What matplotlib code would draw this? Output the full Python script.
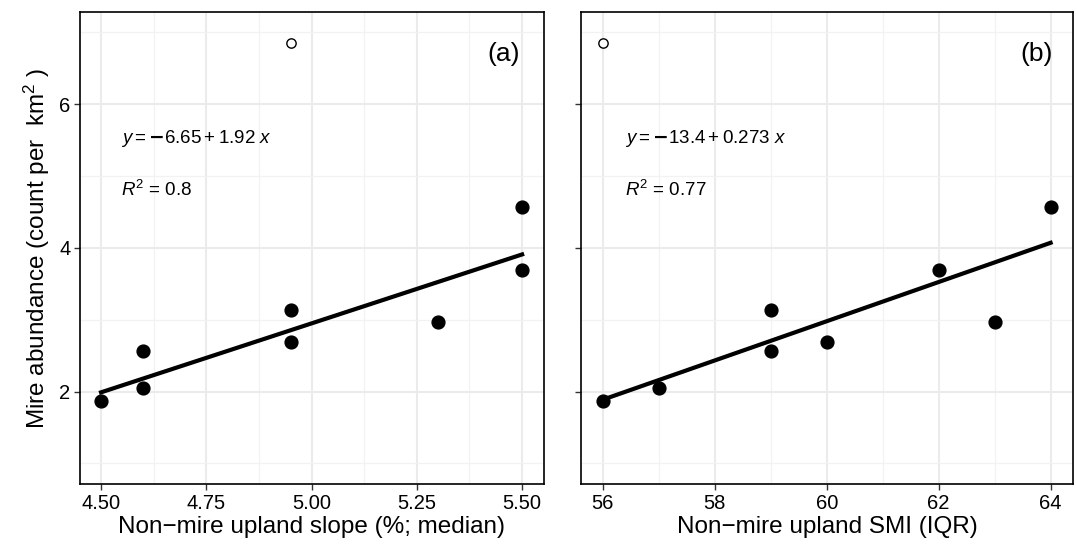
import numpy as np
import matplotlib
matplotlib.use("Agg")
import matplotlib.pyplot as plt

plt.rcParams['font.family'] = ['Liberation Sans', 'DejaVu Sans']
plt.rcParams['mathtext.fontset'] = 'custom'
plt.rcParams['mathtext.rm'] = 'Liberation Sans'
plt.rcParams['mathtext.it'] = 'Liberation Sans:italic'

# data
slope = [5.5, 5.5, 4.95, 5.3, 4.95, 4.6, 4.6, 4.5]
smi = [64, 62, 59, 63, 60, 59, 57, 56]
abundance = [4.57, 3.70, 3.14, 2.97, 2.69, 2.56, 2.05, 1.87]

# excluded point (open circle)
out_slope = [4.95]
out_smi = [56]
out_abundance = [6.85]

# fitted lines (intercept, slope) and R2 as printed
fit_a = [-6.65, 1.92]
fit_b = [-13.4, 0.273]
r2_a = "0.8"
r2_b = "0.77"

fig = plt.figure(figsize=(10.77, 5.45), dpi=100)
ax1 = fig.add_axes([80/1077, 61/545, 464/1077, 472/545])
ax2 = fig.add_axes([581/1077, 61/545, 492/1077, 472/545])

panels = [
    (ax1, slope, out_slope, fit_a, r2_a, "(a)", 0.948, (4.45, 5.552),
     [4.5, 4.75, 5.0, 5.25, 5.5], ["4.50", "4.75", "5.00", "5.25", "5.50"],
     [4.625, 4.875, 5.125, 5.375], "Non\u2212mire upland slope (%; median)",
     "$y=\\mathbf{-}6.65+1.92\\ x$", 0.088),
    (ax2, smi, out_smi, fit_b, r2_b, "(b)", 0.959, (55.61, 64.40),
     [56, 58, 60, 62, 64], ["56", "58", "60", "62", "64"],
     [57, 59, 61, 63], "Non\u2212mire upland SMI (IQR)",
     "$y=\\mathbf{-}13.4+0.273\\ x$", 0.09),
]

for ax, xs, oxs, fit, r2, tag, tagx, xlim, xt, xtl, xminor, xlabel, eq, eqx in panels:
    ax.set_xlim(*xlim)
    ax.set_ylim(0.714, 7.285)
    ax.set_xticks(xt)
    ax.set_xticklabels(xtl)
    ax.set_xticks(xminor, minor=True)
    ax.set_yticks([2, 4, 6])
    ax.set_yticks([1, 3, 5, 7], minor=True)
    ax.grid(which='major', color='#EBEBEB', linewidth=1.5)
    ax.grid(which='minor', color='#F2F2F2', linewidth=0.9)
    ax.set_axisbelow(True)
    for s in ax.spines.values():
        s.set_color('black')
        s.set_linewidth(1.2)
    ax.tick_params(which='major', length=4, width=1.0, color='#333333',
                   labelsize=14.5, labelcolor='black', pad=3)
    ax.tick_params(which='minor', length=0)

    xx = np.array([min(xs), max(xs)])
    ax.plot(xx, fit[0] + fit[1] * xx, color='black', linewidth=3.0, zorder=2)
    ax.scatter(xs, abundance, s=85, color='black', zorder=3)
    ax.scatter(oxs, out_abundance, s=45, facecolor='white', edgecolor='black',
               linewidth=1.0, zorder=3)

    ax.text(eqx, 0.733, eq, transform=ax.transAxes, fontsize=13.5,
            va='center', ha='left')
    ax.text(eqx, 0.623, "$R^{2}$ = " + r2, transform=ax.transAxes,
            fontsize=13.5, va='center', ha='left')
    ax.text(tagx, 0.912, tag, transform=ax.transAxes, fontsize=19,
            va='center', ha='right')
    ax.set_xlabel(xlabel, fontsize=17.5, labelpad=2)

ax2.set_yticklabels([])
ax1.set_ylabel("Mire abundance (count per  km$^{2}$ )", fontsize=17.5, labelpad=5)

fig.savefig("out.png", dpi=100)
